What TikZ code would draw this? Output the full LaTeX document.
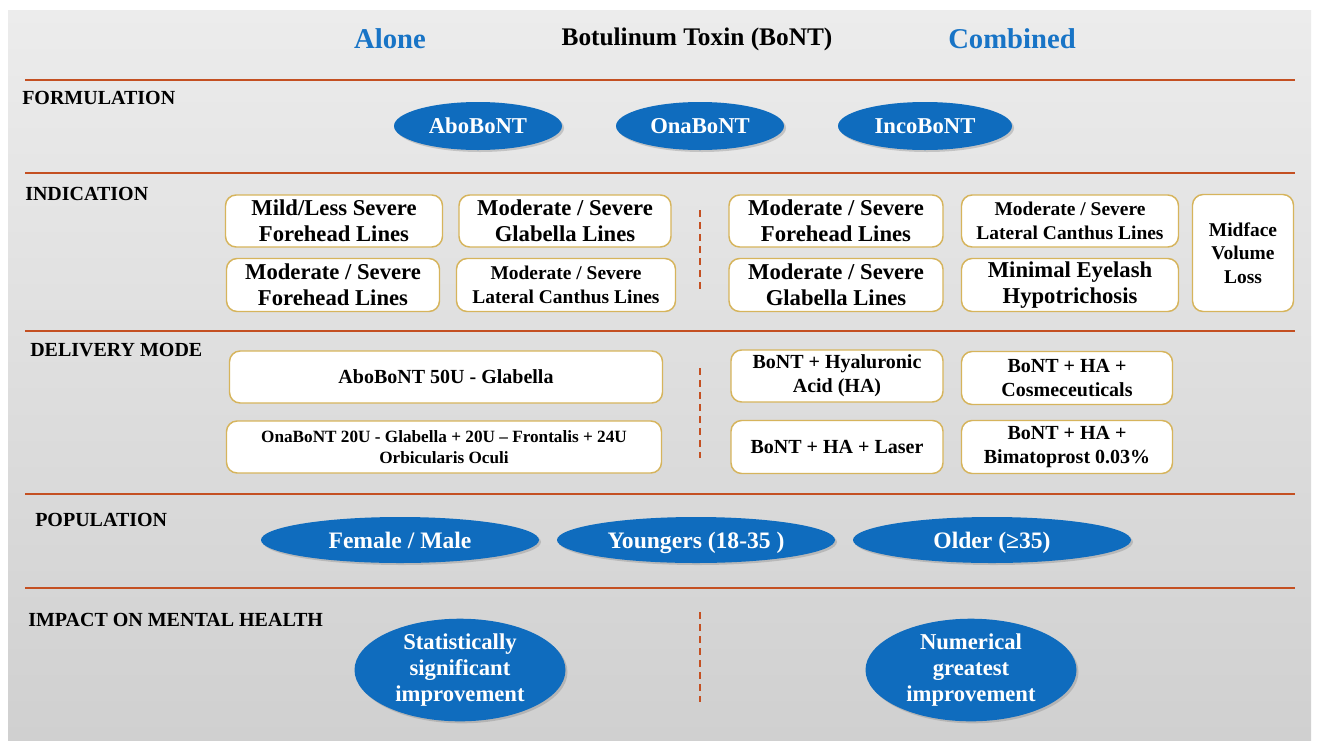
\documentclass[tikz,border=0pt]{standalone}
\usepackage{fontspec}
\setmainfont{Liberation Serif}
\usetikzlibrary{shapes.geometric,shadows}

\definecolor{bontblue}{RGB}{15,108,190}
\definecolor{headblue}{RGB}{24,116,198}
\definecolor{ruleorange}{RGB}{196,80,34}
\definecolor{cardgold}{RGB}{214,180,92}
\definecolor{paneltop}{RGB}{236,236,236}
\definecolor{panelbot}{RGB}{208,208,208}

\newdimen\pxu \pxu=0.75pt

\tikzset{
  secname/.style={anchor=west, inner sep=0pt, font=\fontsize{15}{17}\selectfont\bfseries},
  pill/.style={ellipse, fill=bontblue, text=white, inner sep=0pt, align=center,
    drop shadow={opacity=0.35, shadow xshift=1.5pt, shadow yshift=-1.5pt},
    font=\fontsize{17}{19.5}\selectfont\bfseries},
  onepill/.style={pill, text depth=0pt},
  card/.style={draw=cardgold, fill=white, line width=1.1pt, rounded corners=8pt,
    inner sep=0pt, align=center, font=\fontsize{17}{19.5}\selectfont\bfseries},
  smallcard/.style={card, font=\fontsize{14.6}{17.5}\selectfont\bfseries},
  modecard/.style={card, font=\fontsize{15}{18}\selectfont\bfseries},
  hrule/.style={draw=ruleorange, line width=2.2pt},
  divider/.style={draw=ruleorange, line width=1pt, dash pattern=on 5pt off 4pt}
}

\begin{document}
\begin{tikzpicture}[x=0.75pt,y=0.75pt,yscale=-1,xscale=1]
\useasboundingbox (0,0) rectangle (1318,740);
\fill[white] (0,0) rectangle (1318,740);
\shade[top color=paneltop, bottom color=panelbot] (8,10) rectangle (1311,740);

% header
\node[font=\fontsize{21.5}{24}\selectfont\bfseries, text=headblue] (alone) at (390,39) {Alone};
\node[font=\fontsize{19}{22}\selectfont\bfseries] (title) at (697,39) {Botulinum Toxin (BoNT)};
\node[font=\fontsize{21.5}{24}\selectfont\bfseries, text=headblue] (combined) at (1012,39) {Combined};

% section rules
\foreach \y in {80,173,331,494,588}
  \draw[hrule] (25,\y) -- (1295,\y);

% section names
\node[secname] (formulation) at (22,98) {FORMULATION};
\node[secname] (indication) at (25,194) {INDICATION};
\node[secname] (delivery) at (30,350) {DELIVERY MODE};
\node[secname] (population) at (35,520) {POPULATION};
\node[secname] (impact) at (28,620) {IMPACT ON MENTAL HEALTH};

% formulation
\node[onepill, minimum width=168\pxu, minimum height=48\pxu] (abo) at (478,126) {AboBoNT};
\node[onepill, minimum width=168\pxu, minimum height=48\pxu] (ona) at (700,126) {OnaBoNT};
\node[onepill, minimum width=174\pxu, minimum height=48\pxu] (inco) at (925,126) {IncoBoNT};

% indication, alone
\node[card, minimum width=217\pxu, minimum height=52\pxu] (ind1) at (334,221) {Mild/Less Severe\\Forehead Lines};
\node[card, minimum width=212\pxu, minimum height=52\pxu] (ind2) at (565,221) {Moderate / Severe\\Glabella Lines};
\node[card, minimum width=213\pxu, minimum height=53\pxu] (ind3) at (333,285) {Moderate / Severe\\Forehead Lines};
\node[smallcard, minimum width=219\pxu, minimum height=53\pxu] (ind4) at (566,285) {Moderate / Severe\\Lateral Canthus Lines};

% indication, combined
\node[card, minimum width=214\pxu, minimum height=52\pxu] (ind5) at (836,221) {Moderate / Severe\\Forehead Lines};
\node[smallcard, minimum width=217\pxu, minimum height=52\pxu] (ind6) at (1070,221) {Moderate / Severe\\Lateral Canthus Lines};
\node[card, minimum width=214\pxu, minimum height=53\pxu] (ind7) at (836,285) {Moderate / Severe\\Glabella Lines};
\node[card, minimum width=217\pxu, minimum height=53\pxu] (ind8) at (1070,285) {Minimal Eyelash\\Hypotrichosis};
\node[smallcard, minimum width=101\pxu, minimum height=117\pxu] (ind9) at (1243,253) {Midface\\Volume\\Loss};

% delivery mode
\node[modecard, minimum width=433\pxu, minimum height=52\pxu] (del1) at (446,377) {AboBoNT 50U - Glabella};
\node[card, font=\fontsize{12.9}{15.5}\selectfont\bfseries, minimum width=435\pxu, minimum height=52\pxu] (del2) at (444,447) {OnaBoNT 20U - Glabella + 20U -- Frontalis + 24U\\Orbicularis Oculi};
\node[modecard, minimum width=212\pxu, minimum height=52\pxu] (del3) at (837,376) {BoNT + Hyaluronic\\Acid (HA)};
\node[modecard, minimum width=211\pxu, minimum height=53\pxu] (del4) at (1067,378) {BoNT + HA +\\Cosmeceuticals};
\node[modecard, minimum width=212\pxu, minimum height=53\pxu] (del5) at (837,447) {BoNT + HA + Laser};
\node[modecard, minimum width=211\pxu, minimum height=53\pxu] (del6) at (1067,447) {BoNT + HA +\\Bimatoprost 0.03\%};

% population
\node[onepill, font=\fontsize{17.7}{20}\selectfont\bfseries, minimum width=278\pxu, minimum height=46\pxu] (sex) at (400,540) {Female / Male};
\node[onepill, font=\fontsize{17.7}{20}\selectfont\bfseries, minimum width=278\pxu, minimum height=46\pxu] (young) at (696,540) {Youngers (18-35 )};
\node[onepill, font=\fontsize{17.7}{20}\selectfont\bfseries, minimum width=278\pxu, minimum height=46\pxu] (old) at (992,540) {Older (≥35)};

% impact on mental health
\node[pill, minimum width=211\pxu, minimum height=88\pxu] (statsig) at (460,670) {Statistically\\significant\\improvement};
\node[pill, minimum width=211\pxu, minimum height=88\pxu] (numgreat) at (971,670) {Numerical\\greatest\\improvement};

% alone / combined dividers
\draw[divider] (700,210) -- (700,290);
\draw[divider] (700,368) -- (700,458);
\draw[divider] (700,612) -- (700,702);

\end{tikzpicture}
\end{document}
